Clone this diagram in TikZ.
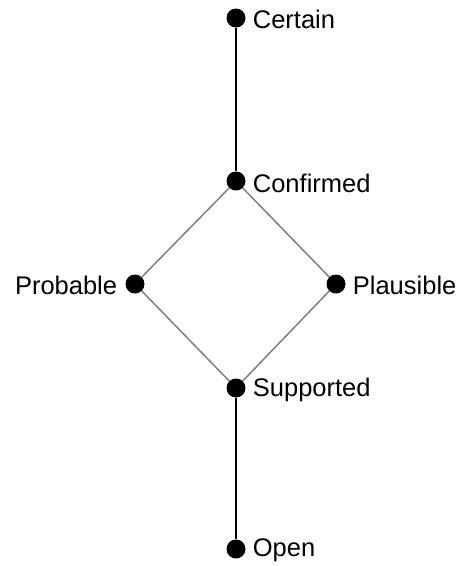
\documentclass[tikz,border=0pt]{standalone}
\usepackage{fontspec}
\setmainfont{Liberation Sans}
\usetikzlibrary{positioning}

\begin{document}
\begin{tikzpicture}[
  x=1pt, y=-1pt,
  dot/.style={circle, fill=black, inner sep=0pt, minimum size=19pt},
  lbl/.style={font=\fontsize{25.5}{30}\selectfont, inner sep=0pt},
  vline/.style={draw=black, line width=1.5pt},
  dline/.style={draw=black!50, line width=1.5pt}
]
  \useasboundingbox (0,0) rectangle (457,566);
  \node[dot] (certain) at (236,18) {};
  \node[dot] (confirmed) at (236,181) {};
  \node[dot] (probable) at (135,284) {};
  \node[dot] (plausible) at (336,284) {};
  \node[dot] (supported) at (236,388) {};
  \node[dot] (open) at (236,549) {};
  \node[lbl, right=7pt of certain, yshift=-1pt] {Certain};
  \node[lbl, right=7pt of confirmed, yshift=-2pt] {Confirmed};
  \node[lbl, left=8pt of probable, yshift=-1pt] {Probable};
  \node[lbl, right=7pt of plausible, yshift=-1pt] {Plausible};
  \node[lbl, right=7pt of supported, yshift=-2pt] {Supported};
  \node[lbl, right=7pt of open, yshift=-1pt] {Open};
  \draw[vline] (certain) -- (confirmed);
  \draw[vline] (supported) -- (open);
  \draw[dline] (confirmed) -- (probable) -- (supported) -- (plausible) -- (confirmed);
\end{tikzpicture}
\end{document}
